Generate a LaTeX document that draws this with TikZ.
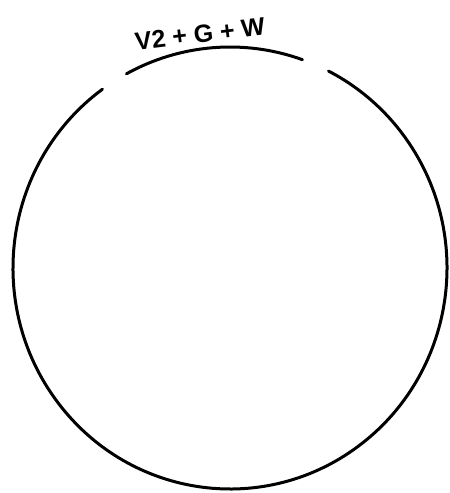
\documentclass[tikz,border=0pt]{standalone}
\usepackage{fontspec}
\setmainfont{Liberation Sans}
\begin{document}
\begin{tikzpicture}[x=1pt,y=1pt,
  stroke/.style={line width=3pt,line cap=round,black},
  label/.style={font=\fontsize{25}{27}\selectfont\bfseries,inner sep=0pt}]
\useasboundingbox (0,0) rectangle (450,493);
\coordinate (c) at (230,225);
% main circle, open at the top
\draw[stroke] (c) ++(126:217 and 221) arc[start angle=126,end angle=423,x radius=217,y radius=221];
% top arc under the label
\draw[stroke] (c) ++(118.5:217 and 221) arc[start angle=118.5,end angle=70.5,x radius=217,y radius=221];
\node[label,rotate=7] (t) at (200,459) {V2 + G + W};
\end{tikzpicture}
\end{document}
